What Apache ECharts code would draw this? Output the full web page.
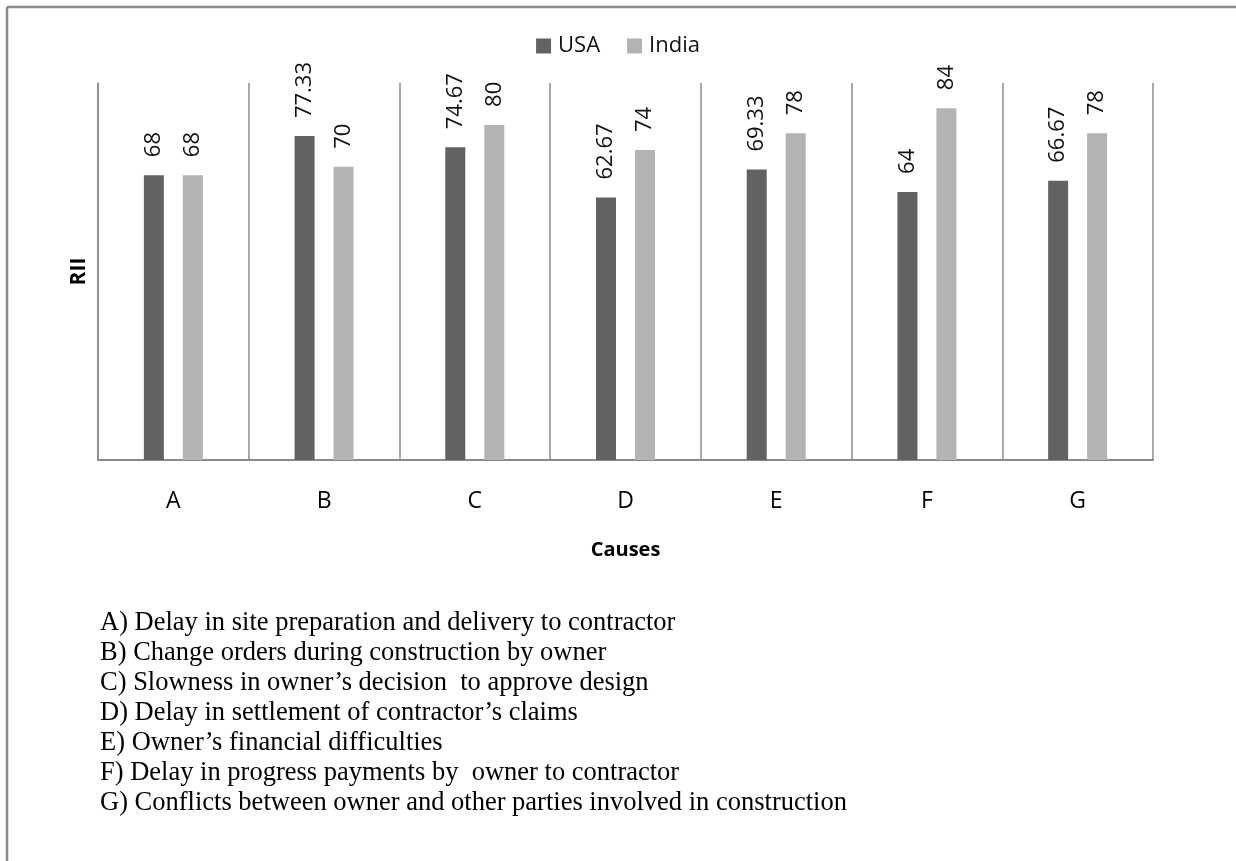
<!DOCTYPE html>
<html>
<head>
<meta charset="utf-8">
<script src="https://cdn.jsdelivr.net/npm/echarts@6/dist/echarts.min.js"></script>
<style>
  html, body { margin: 0; padding: 0; background: #fff; }
  #chart { width: 1236px; height: 861px; }
</style>
</head>
<body>
<div id="chart"></div>
<script>
// Causes of delay (owner-related), RII by country
const categories = ['A', 'B', 'C', 'D', 'E', 'F', 'G'];
const usaValues = [68, 77.33, 74.67, 62.67, 69.33, 64, 66.67];
const indiaValues = [68, 70, 80, 74, 78, 84, 78];
const seriesNames = ['USA', 'India'];
const causeNotes = [
  'A) Delay in site preparation and delivery to contractor',
  'B) Change orders during construction by owner',
  'C) Slowness in owner\u2019s decision  to approve design',
  'D) Delay in settlement of contractor\u2019s claims',
  'E) Owner\u2019s financial difficulties',
  'F) Delay in progress payments by  owner to contractor',
  'G) Conflicts between owner and other parties involved in construction'
];

const sansFont = '"Open Sans", "DejaVu Sans", sans-serif';
const gridLine = '#8a8a8a';

const chart = echarts.init(document.getElementById('chart'), null, { renderer: 'canvas' });

const valueLabel = {
  show: true,
  position: 'top',
  rotate: 90,
  align: 'left',
  verticalAlign: 'middle',
  distance: 18,
  color: '#111',
  fontFamily: sansFont,
  fontSize: 22
};

// legend of cause codes under the chart
const noteGraphics = causeNotes.map((line, i) => ({
  type: 'text',
  left: 100,
  top: 610 + i * 30,
  style: {
    text: line,
    fill: '#000',
    font: '26.5px "Liberation Serif", "Times New Roman", serif'
  }
}));

chart.setOption({
  animation: false,
  backgroundColor: '#fff',
  legend: {
    data: seriesNames,
    top: 30,
    left: 'center',
    icon: 'rect',
    itemWidth: 15,
    itemHeight: 15,
    itemGap: 27,
    textStyle: { fontFamily: sansFont, fontSize: 22, color: '#111', padding: [0, 0, 0, 2] }
  },
  grid: { left: 98, right: 83, top: 83, bottom: 401, containLabel: false },
  xAxis: {
    type: 'category',
    data: categories,
    name: 'Causes',
    nameLocation: 'middle',
    nameGap: 80,
    nameTextStyle: { fontFamily: sansFont, fontSize: 20, fontWeight: 'bold', color: '#000' },
    axisLine: { show: true, lineStyle: { color: gridLine, width: 2 } },
    axisTick: { show: false },
    splitLine: { show: true, lineStyle: { color: gridLine, width: 1.5 } },
    axisLabel: { margin: 30, fontFamily: sansFont, fontSize: 23, color: '#000' }
  },
  yAxis: {
    type: 'value',
    min: 0,
    max: 90,
    name: 'RII',
    nameLocation: 'middle',
    nameRotate: 90,
    nameGap: 8,
    nameTextStyle: { fontFamily: sansFont, fontSize: 21, fontWeight: 'bold', color: '#000' },
    axisLine: { show: true, lineStyle: { color: gridLine, width: 1.5 } },
    axisTick: { show: false },
    axisLabel: { show: false },
    splitLine: { show: false }
  },
  series: [
    {
      name: seriesNames[0],
      type: 'bar',
      data: usaValues,
      barWidth: 20,
      barGap: '95%',
      itemStyle: { color: '#626262' },
      label: valueLabel
    },
    {
      name: seriesNames[1],
      type: 'bar',
      data: indiaValues,
      barWidth: 20,
      itemStyle: { color: '#b3b3b3' },
      label: valueLabel
    }
  ],
  graphic: [
    // outer frame: top and left edges
    { type: 'line', shape: { x1: 7, y1: 7, x2: 1236, y2: 7 }, style: { stroke: '#8c8c8c', lineWidth: 2.5 } },
    { type: 'line', shape: { x1: 7, y1: 7, x2: 7, y2: 861 }, style: { stroke: '#8c8c8c', lineWidth: 2.5 } }
  ].concat(noteGraphics)
});
</script>
</body>
</html>
